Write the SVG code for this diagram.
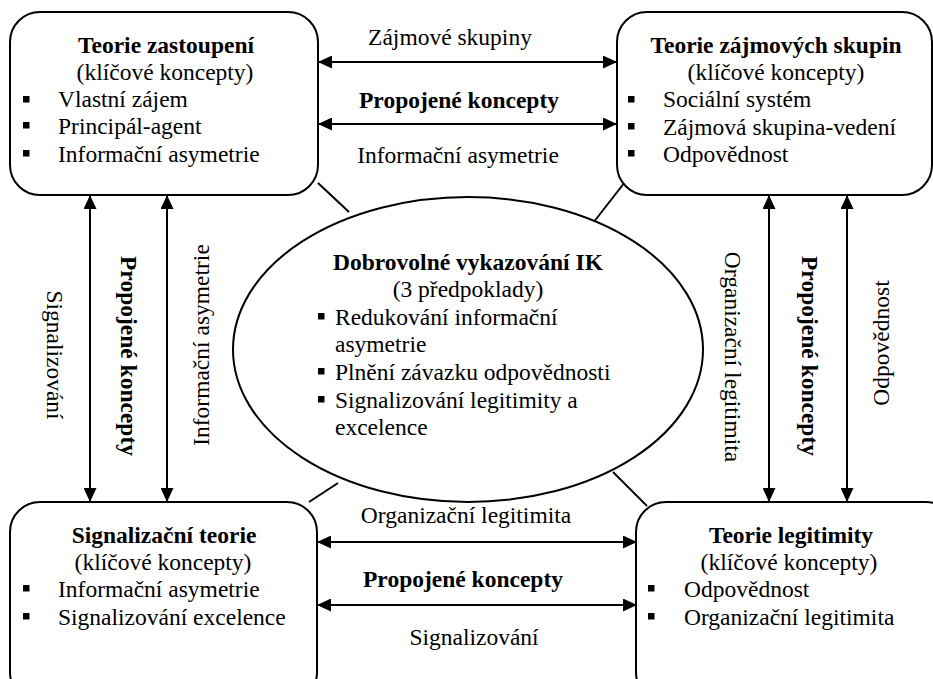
<svg xmlns="http://www.w3.org/2000/svg" width="933" height="679" viewBox="0 0 933 679">
  <style>
    text { font-family: "Liberation Serif", "Times New Roman", Tinos, "Nimbus Roman", "Nimbus Roman No9 L", "TeX Gyre Termes", FreeSerif, "Noto Serif", "DejaVu Serif", Georgia, Times, serif; font-size: 23.5px; fill: #000; }
    .b { font-weight: bold; }
    .c { text-anchor: middle; }
    .box { fill: #fff; stroke: #000; stroke-width: 2; }
    .line { stroke: #000; stroke-width: 2; fill: none; }
    .arrow { stroke: #000; stroke-width: 2; fill: none; marker-start: url(#head); marker-end: url(#head); }
    .sq { fill: #000; }
  </style>
  <defs>
    <marker id="head" markerUnits="userSpaceOnUse" markerWidth="14" markerHeight="13" refX="14" refY="6.5" orient="auto-start-reverse">
      <path d="M0,0 L14,6.5 L0,13 z" fill="#000"/>
    </marker>
  </defs>

  <rect width="933" height="679" fill="#fff"/>

  <!-- links between the theories and to the central ellipse -->
  <g id="connectors">
    <line class="line" x1="318" y1="183" x2="349" y2="212"/>
    <line class="line" x1="625" y1="182" x2="593" y2="223"/>
    <line class="line" x1="338" y1="483" x2="309" y2="502"/>
    <line class="line" x1="613" y1="472" x2="647" y2="506"/>

    <line class="arrow" x1="318" y1="62" x2="617" y2="62"/>
    <line class="arrow" x1="318" y1="124" x2="617" y2="124"/>
    <line class="arrow" x1="317" y1="542" x2="637" y2="542"/>
    <line class="arrow" x1="317" y1="605" x2="637" y2="605"/>

    <line class="arrow" x1="90" y1="195" x2="90" y2="502"/>
    <line class="arrow" x1="167" y1="195" x2="167" y2="502"/>
    <line class="arrow" x1="769" y1="195" x2="769" y2="502"/>
    <line class="arrow" x1="847" y1="195" x2="847" y2="502"/>

    <text class="c" x="450" y="45">Zájmové skupiny</text>
    <text class="c b" x="459" y="108">Propojené koncepty</text>
    <text class="c" x="458" y="163">Informační asymetrie</text>

    <text class="c" x="466" y="523">Organizační legitimita</text>
    <text class="c b" x="463" y="587">Propojené koncepty</text>
    <text class="c" x="474" y="645">Signalizování</text>

    <text class="c" dy="0.35em" transform="translate(55,355) rotate(90)">Signalizování</text>
    <text class="c b" dy="0.35em" transform="translate(129,356) rotate(90)">Propojené koncepty</text>
    <text class="c" dy="0.35em" transform="translate(201,345) rotate(-90)">Informační asymetrie</text>

    <text class="c" dy="0.35em" transform="translate(733,357) rotate(90)">Organizační legitimita</text>
    <text class="c b" dy="0.35em" transform="translate(810,356) rotate(90)">Propojené koncepty</text>
    <text class="c" dy="0.35em" transform="translate(881,343) rotate(-90)">Odpovědnost</text>
  </g>

  <g id="agency-theory">
    <rect class="box" x="10" y="12" width="308" height="183" rx="30"/>
    <text class="c b" x="166" y="53">Teorie zastoupení</text>
    <text class="c" x="165" y="80">(klíčové koncepty)</text>
    <rect class="sq" x="23" y="96" width="6.5" height="6.5"/>
    <text x="58" y="107">Vlastní zájem</text>
    <rect class="sq" x="23" y="122" width="6.5" height="6.5"/>
    <text x="58" y="134">Principál-agent</text>
    <rect class="sq" x="23" y="150" width="6.5" height="6.5"/>
    <text x="58" y="162">Informační asymetrie</text>
  </g>

  <g id="stakeholder-theory">
    <rect class="box" x="617" y="12" width="315" height="183" rx="30"/>
    <text class="c b" x="776" y="53">Teorie zájmových skupin</text>
    <text class="c" x="776" y="80">(klíčové koncepty)</text>
    <rect class="sq" x="628" y="96" width="6.5" height="6.5"/>
    <text x="663" y="107">Sociální systém</text>
    <rect class="sq" x="628" y="123" width="6.5" height="6.5"/>
    <text x="663" y="135">Zájmová skupina-vedení</text>
    <rect class="sq" x="628" y="150" width="6.5" height="6.5"/>
    <text x="663" y="162">Odpovědnost</text>
  </g>

  <g id="signalling-theory">
    <rect class="box" x="10" y="502" width="307" height="200" rx="30"/>
    <text class="c b" x="164" y="543">Signalizační teorie</text>
    <text class="c" x="163" y="570">(klíčové koncepty)</text>
    <rect class="sq" x="23" y="585" width="6.5" height="6.5"/>
    <text x="58" y="597">Informační asymetrie</text>
    <rect class="sq" x="23" y="613" width="6.5" height="6.5"/>
    <text x="58" y="625">Signalizování excelence</text>
  </g>

  <g id="legitimacy-theory">
    <rect class="box" x="636" y="502" width="320" height="200" rx="30"/>
    <text class="c b" x="791" y="543">Teorie legitimity</text>
    <text class="c" x="789" y="570">(klíčové koncepty)</text>
    <rect class="sq" x="648" y="585" width="6.5" height="6.5"/>
    <text x="684" y="597">Odpovědnost</text>
    <rect class="sq" x="648" y="613" width="6.5" height="6.5"/>
    <text x="684" y="625">Organizační legitimita</text>
  </g>

  <g id="voluntary-ic-reporting">
    <ellipse class="box" cx="468" cy="349.5" rx="235" ry="152.5"/>
    <text class="c b" x="468" y="270">Dobrovolné vykazování IK</text>
    <text class="c" x="468" y="297">(3 předpoklady)</text>
    <rect class="sq" x="318" y="313" width="6.5" height="6.5"/>
    <text x="335" y="325">Redukování informační</text>
    <text x="335" y="352">asymetrie</text>
    <rect class="sq" x="318" y="368" width="6.5" height="6.5"/>
    <text x="335" y="380">Plnění závazku odpovědnosti</text>
    <rect class="sq" x="318" y="396" width="6.5" height="6.5"/>
    <text x="335" y="408">Signalizování legitimity a</text>
    <text x="335" y="435">excelence</text>
  </g>
</svg>
